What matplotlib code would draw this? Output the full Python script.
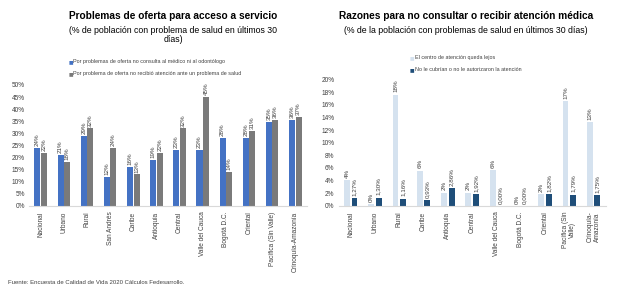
import numpy as np
import matplotlib.pyplot as plt

# ==========================================
# DATA
# ==========================================

left_categories = [
    "Nacional", "Urbano", "Rural", "San Andrés", "Caribe", "Antioquia",
    "Central", "Valle del Cauca", "Bogotá D.C.", "Oriental",
    "Pacífica (Sin Valle)", "Orinoquía-Amazonía"
]

no_consulta = [24, 21, 29, 12, 16, 19, 23, 23, 28, 28, 34.6, 35.6]
no_atencion = [22, 18, 32, 24, 13, 22, 32, 45, 14, 31, 35.7, 36.6]

right_categories = [
    "Nacional", "Urbano", "Rural", "Caribe", "Antioquia", "Central",
    "Valle del Cauca", "Bogotá D.C.", "Oriental",
    "Pacífica (Sin\nValle)", "Orinoquía-\nAmazonía"
]

lejos = [4.1, 0.3, 17.6, 5.6, 2.1, 2.1, 5.7, 0.0, 1.9, 16.6, 13.2]
no_cubrian = [1.27, 1.30, 1.16, 0.93, 2.86, 1.92, 0.00, 0.00, 1.82, 1.79, 1.75]

BLUE = "#4472c4"
GRAY = "#7a7a7a"
LIGHT = "#d5e2ef"
NAVY = "#1f4e79"
TEXT = "#404040"

plt.rcParams["font.family"] = ["Liberation Sans", "DejaVu Sans"]

fig = plt.figure(figsize=(6.2, 2.86), dpi=100)

# ==========================================
# LEFT CHART
# ==========================================

ax1 = fig.add_axes([0.047, 0.28, 0.448, 0.423])

x1 = np.arange(len(left_categories))
w1 = 0.26

ax1.bar(x1 - 0.14, no_consulta, width=w1, color=BLUE)
ax1.bar(x1 + 0.14, no_atencion, width=w1, color=GRAY)

for i in range(len(x1)):
    ax1.text(x1[i] - 0.14, no_consulta[i] + 0.8, f"{no_consulta[i]:.0f}%",
             rotation=90, ha="center", va="bottom", fontsize=4.5, color=TEXT)
    ax1.text(x1[i] + 0.14, no_atencion[i] + 0.8, f"{no_atencion[i]:.0f}%",
             rotation=90, ha="center", va="bottom", fontsize=4.5, color=TEXT)

ax1.set_xlim(-0.5, 11.5)
ax1.set_ylim(0, 50)
ax1.set_yticks(np.arange(0, 51, 5))
ax1.set_yticklabels([f"{v}%" for v in range(0, 51, 5)])
ax1.set_xticks(x1)
ax1.set_xticklabels(left_categories, rotation=90)

# ==========================================
# RIGHT CHART
# ==========================================

ax2 = fig.add_axes([0.546, 0.28, 0.431, 0.442])

x2 = np.arange(len(right_categories))
w2 = 0.24

ax2.bar(x2 - 0.155, lejos, width=w2, color=LIGHT)
ax2.bar(x2 + 0.155, no_cubrian, width=w2, color=NAVY)

for i in range(len(x2)):
    ax2.text(x2[i] - 0.155, lejos[i] + 0.35, f"{lejos[i]:.0f}%",
             rotation=90, ha="center", va="bottom", fontsize=4.5, color=TEXT)
    lbl = f"{no_cubrian[i]:.2f}%".replace(".", ",")
    ax2.text(x2[i] + 0.155, no_cubrian[i] + 0.35, lbl,
             rotation=90, ha="center", va="bottom", fontsize=4.5, color=TEXT)

ax2.set_xlim(-0.5, 10.5)
ax2.set_ylim(0, 20)
ax2.set_yticks(np.arange(0, 21, 2))
ax2.set_yticklabels([f"{v}%" for v in range(0, 21, 2)])
ax2.set_xticks(x2)
ax2.set_xticklabels(right_categories, rotation=90, linespacing=1.05)

# common axis styling
for ax in [ax1, ax2]:
    for side in ["top", "right", "left"]:
        ax.spines[side].set_visible(False)
    ax.spines["bottom"].set_color("#d9d9d9")
    ax.spines["bottom"].set_linewidth(0.8)
    ax.tick_params(axis="both", length=0, labelsize=4.7, colors=TEXT, pad=3)
    ax.tick_params(axis="x", pad=4)

# ==========================================
# TITLES, LEGENDS, SOURCE
# ==========================================

fig.text(0.279, 0.944, "Problemas de oferta para acceso a servicio",
         ha="center", va="center", fontsize=7.3, fontweight="bold")
fig.text(0.279, 0.878, "(% de población con problema de salud en últimos 30\ndías)",
         ha="center", va="center", fontsize=6.3, linespacing=1.0)

fig.text(0.752, 0.944, "Razones para no consultar o recibir atención médica",
         ha="center", va="center", fontsize=7.3, fontweight="bold")
fig.text(0.752, 0.893, "(% de la población con problemas de salud en últimos 30 días)",
         ha="center", va="center", fontsize=6.3)

left_legend = [
    (BLUE, "Por problemas de oferta no consulta al médico ni al odontólogo"),
    (GRAY, "Por problema de oferta no recibió atención ante un problema de salud"),
]
for k, (col, txt) in enumerate(left_legend):
    yy = 0.785 - k * 0.042
    fig.text(0.110, yy, "■", color=col, fontsize=3.5, ha="left", va="center",
             family="DejaVu Sans")
    fig.text(0.118, yy, txt, fontsize=3.9, color=TEXT, ha="left", va="center")

right_legend = [
    (LIGHT, "El centro de atención queda lejos"),
    (NAVY, "No le cubrían o no le autorizaron la atención"),
]
for k, (col, txt) in enumerate(right_legend):
    yy = 0.800 - k * 0.042
    fig.text(0.661, yy, "■", color=col, fontsize=3.5, ha="left", va="center",
             family="DejaVu Sans")
    fig.text(0.669, yy, txt, fontsize=3.9, color=TEXT, ha="left", va="center")

fig.text(0.013, 0.012, "Fuente: Encuesta de Calidad de Vida 2020 Cálculos Fedesarrollo.",
         fontsize=4.3, color=TEXT, ha="left", va="center")

fig.savefig("out.png", dpi=100)
